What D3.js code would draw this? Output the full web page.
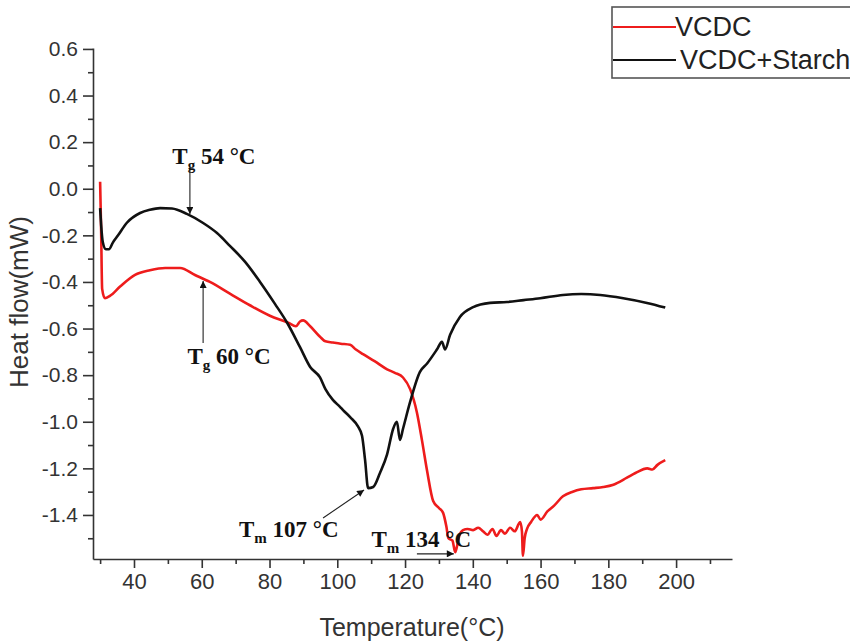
<!DOCTYPE html>
<html lang="en">
<head>
    <meta charset="UTF-8">
    <title>DSC VCDC</title>
    <script src="https://d3js.org/d3.v7.min.js"></script>
    <style>
        * { margin: 0; padding: 0; box-sizing: border-box; }
        body { background: #fff; width: 850px; height: 644px; overflow: hidden; }
        svg { display: block; }
        .axis path, .axis line { stroke: #333; stroke-width: 1.6; }
        .axis text { fill: #333; font-family: 'Liberation Sans', Arial, sans-serif; }
        .axis-title { fill: #333; font-family: 'Liberation Sans', Arial, sans-serif; }
        .note { fill: #111; font-family: 'Liberation Serif', 'Times New Roman', serif; font-weight: bold; font-size: 23px; }
        .legend text { fill: #222; font-family: 'Liberation Sans', Arial, sans-serif; font-size: 27px; }
    </style>
</head>
<body>
<div id="chart"></div>
<script>
    // VCDC (red)
    const vcdcT = [30.0, 30.3, 30.6, 31.4, 32.9, 35.9, 40.3, 44.7, 49.2, 53.6, 58.0, 62.4, 68.3, 74.2, 80.1,
        85.5, 87.8, 89.0, 89.9, 92.0, 94.9, 96.5, 98.7, 101.0, 103.8, 105.5, 107.6, 111.0, 114.7, 117.0, 119.4,
        121.5, 123.5, 125.0, 126.5, 128.3, 130.0, 131.2, 132.2, 132.8, 134.0, 134.8, 135.4, 136.0, 137.1,
        138.5, 140.1, 141.6, 143.0, 144.3, 145.8, 147.0, 148.3, 149.5, 151.0, 152.4, 153.5, 154.0, 154.5,
        154.8, 155.3, 156.0, 157.2, 159.0, 160.0, 162.0, 164.0, 166.6, 169.5, 172.0, 175.5, 178.5, 181.5,
        185.5, 188.0, 191.5, 193.0, 194.5, 196.8];
    const vcdcH = [0.03, -0.18, -0.43, -0.47, -0.46, -0.42, -0.37, -0.35, -0.34, -0.34, -0.37, -0.40, -0.45, -0.50, -0.545,
        -0.575, -0.59, -0.57, -0.565, -0.59, -0.635, -0.655, -0.66, -0.665, -0.67, -0.69, -0.71, -0.74, -0.775, -0.79, -0.81,
        -0.86, -0.96, -1.08, -1.21, -1.34, -1.37, -1.39, -1.45, -1.50, -1.51, -1.56, -1.53, -1.49, -1.465,
        -1.46, -1.465, -1.455, -1.47, -1.485, -1.46, -1.49, -1.465, -1.48, -1.455, -1.47, -1.44, -1.43, -1.47,
        -1.575, -1.50, -1.46, -1.43, -1.40, -1.42, -1.385, -1.36, -1.32, -1.30, -1.29, -1.285, -1.28, -1.27,
        -1.24, -1.22, -1.20, -1.205, -1.185, -1.165];

    // VCDC+Starch (black)
    const starchT = [30.0, 30.3, 30.8, 31.7, 32.6, 33.8, 35.3, 37.9, 41.8, 44.7, 47.7, 51.2, 55.6, 60.4, 64.5,
        68.3, 72.8, 77.2, 81.6, 85.2, 89.0, 92.0, 94.9, 96.5, 98.7, 100.8, 101.7, 103.8, 106.1, 107.3, 108.2,
        109.1, 110.6, 112.6, 114.7, 116.5, 117.6, 118.5, 119.4, 121.5, 124.4, 126.5, 129.4, 130.9, 131.8,
        133.3, 136.2, 140.1, 145.1, 150.1, 155.0, 159.9, 166.6, 172.0, 177.6, 184.4, 191.4, 196.8];
    const starchH = [-0.083, -0.155, -0.23, -0.26, -0.26, -0.23, -0.20, -0.146, -0.104, -0.09, -0.083, -0.085, -0.108, -0.147, -0.19,
        -0.245, -0.314, -0.40, -0.494, -0.575, -0.68, -0.765, -0.81, -0.86, -0.906, -0.936, -0.95, -0.98, -1.02, -1.06, -1.164,
        -1.285, -1.28, -1.22, -1.14, -1.03, -1.0, -1.078, -1.03, -0.915, -0.786, -0.75, -0.69, -0.657, -0.69,
        -0.627, -0.55, -0.508, -0.49, -0.486, -0.478, -0.47, -0.456, -0.452, -0.456, -0.47, -0.49, -0.51];

    const xTicks = [40, 60, 80, 100, 120, 140, 160, 180, 200];
    const xMinor = [30, 50, 70, 90, 110, 130, 150, 170, 190, 210];
    const yTicks = [0.6, 0.4, 0.2, 0.0, -0.2, -0.4, -0.6, -0.8, -1.0, -1.2, -1.4];
    const yMinor = [0.5, 0.3, 0.1, -0.1, -0.3, -0.5, -0.7, -0.9, -1.1, -1.3, -1.5];

    const seriesNames = ["VCDC", "VCDC+Starch"];
    const seriesColors = ["#ee1c1c", "#111111"];

    // annotations: text anchor [T, H], arrow from [T, H] to [T, H]
    const notes = [
        { main: "T", sub: "g", rest: " 54 °C", at: [51.3, 0.106], from: [56.5, 0.089], to: [56.5, -0.108] },
        { main: "T", sub: "g", rest: " 60 °C", at: [55.8, -0.752], from: [60.4, -0.662], to: [60.4, -0.396] },
        { main: "T", sub: "m", rest: " 107 °C", at: [71.0, -1.494], from: [95.8, -1.413], to: [107.9, -1.293] },
        { main: "T", sub: "m", rest: " 134 °C", at: [110.1, -1.537], from: [123.5, -1.567], to: [134.4, -1.567] }
    ];

    const width = 850, height = 644;
    const svg = d3.select("#chart").append("svg")
        .attr("width", width)
        .attr("height", height);

    const x = d3.scaleLinear().domain([27.9, 216.5]).range([93, 732]);
    const y = d3.scaleLinear().domain([-1.589, 0.604]).range([559, 48]);

    // marker for arrows
    svg.append("defs").append("marker")
        .attr("id", "arrow")
        .attr("viewBox", "0 0 10 10")
        .attr("refX", 10).attr("refY", 5)
        .attr("markerWidth", 9).attr("markerHeight", 7)
        .attr("markerUnits", "userSpaceOnUse")
        .attr("orient", "auto")
        .append("path")
        .attr("d", "M0,0L10,5L0,10z")
        .attr("fill", "#111");

    // axes
    const xAxis = svg.append("g").attr("class", "axis")
        .attr("transform", `translate(0,${y.range()[0]})`)
        .call(d3.axisBottom(x).tickValues(xTicks).tickSize(9).tickSizeOuter(0).tickPadding(5));
    xAxis.selectAll("text").attr("font-size", 22);
    svg.append("g").attr("class", "axis")
        .attr("transform", `translate(0,${y.range()[0]})`)
        .call(d3.axisBottom(x).tickValues(xMinor).tickSize(5).tickSizeOuter(0).tickFormat(""))
        .select(".domain").remove();

    const yAxis = svg.append("g").attr("class", "axis")
        .attr("transform", `translate(${x.range()[0]},0)`)
        .call(d3.axisLeft(y).tickValues(yTicks).tickSize(10).tickSizeOuter(0).tickPadding(5)
            .tickFormat(d => d.toFixed(1)));
    yAxis.selectAll("text").attr("font-size", 21);
    svg.append("g").attr("class", "axis")
        .attr("transform", `translate(${x.range()[0]},0)`)
        .call(d3.axisLeft(y).tickValues(yMinor).tickSize(5).tickSizeOuter(0).tickFormat(""))
        .select(".domain").remove();

    svg.append("text").attr("class", "axis-title")
        .attr("x", 412).attr("y", 636)
        .attr("text-anchor", "middle")
        .attr("font-size", 25)
        .text("Temperature(°C)");

    svg.append("text").attr("class", "axis-title")
        .attr("transform", "translate(28,302) rotate(-90)")
        .attr("text-anchor", "middle")
        .attr("font-size", 26)
        .text("Heat flow(mW)");

    // curves
    const line = d3.line()
        .curve(d3.curveMonotoneX)
        .x(d => x(d[0]))
        .y(d => y(d[1]));

    const series = [
        d3.zip(vcdcT, vcdcH),
        d3.zip(starchT, starchH)
    ];

    series.forEach((pts, i) => {
        svg.append("path")
            .datum(pts)
            .attr("fill", "none")
            .attr("stroke", seriesColors[i])
            .attr("stroke-width", 2.6)
            .attr("stroke-linejoin", "round")
            .attr("d", line);
    });

    // annotations
    notes.forEach(n => {
        svg.append("line")
            .attr("x1", x(n.from[0])).attr("y1", y(n.from[1]))
            .attr("x2", x(n.to[0])).attr("y2", y(n.to[1]))
            .attr("stroke", "#222")
            .attr("stroke-width", 1.1)
            .attr("marker-end", "url(#arrow)");

        const t = svg.append("text").attr("class", "note")
            .attr("x", x(n.at[0])).attr("y", y(n.at[1]));
        t.append("tspan").text(n.main);
        t.append("tspan").attr("font-size", 15).attr("dy", 6).text(n.sub);
        t.append("tspan").attr("dy", -6).text(n.rest);
    });

    // legend
    const legend = svg.append("g").attr("class", "legend");
    legend.append("rect")
        .attr("x", 612).attr("y", 7)
        .attr("width", 260).attr("height", 71)
        .attr("fill", "#fff")
        .attr("stroke", "#555")
        .attr("stroke-width", 1.6);

    seriesNames.forEach((name, i) => {
        const ly = 27 + i * 33;
        legend.append("line")
            .attr("x1", 613).attr("x2", 676)
            .attr("y1", ly).attr("y2", ly)
            .attr("stroke", seriesColors[i])
            .attr("stroke-width", 2.2);
        legend.append("text")
            .attr("x", i === 0 ? 675 : 680)
            .attr("y", ly + 9)
            .text(name);
    });
</script>
</body>
</html>
